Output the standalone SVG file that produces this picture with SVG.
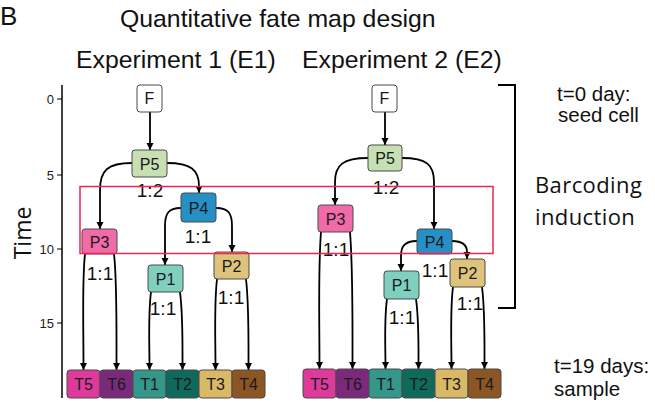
<svg xmlns="http://www.w3.org/2000/svg" width="655" height="406" viewBox="0 0 655 406">
  <style>
    .t { font-family: "Liberation Sans", Arial, sans-serif; fill: #111; }
    .os { font-family: "Open Sans", "Liberation Sans", sans-serif; fill: #111; }
    .node rect { stroke: #4a4a4a; stroke-width: 1; }
    .node text { font-family: "Liberation Sans", Arial, sans-serif; font-size: 16px; fill: #1a1a1a; text-anchor: middle; }
    .edge { fill: none; stroke: #000; stroke-width: 1.8; marker-end: url(#arrow); }
    .ratio { font-family: "Liberation Sans", Arial, sans-serif; font-size: 19px; fill: #111; text-anchor: middle; }
    .tick { font-family: "Liberation Sans", Arial, sans-serif; font-size: 13px; fill: #222; text-anchor: end; }
  </style>
  <defs>
    <marker id="arrow" markerUnits="userSpaceOnUse" markerWidth="9" markerHeight="8" refX="7.5" refY="3.75" orient="auto">
      <path d="M0,0 L7.5,3.75 L0,7.5 z" fill="#000"/>
    </marker>
  </defs>

  <rect width="655" height="406" fill="#fff"/>

  <!-- headings -->
  <text class="t" x="0" y="25" font-size="26">B</text>
  <text class="t" x="120" y="27" font-size="24.8">Quantitative fate map design</text>
  <text class="t" x="76" y="68" font-size="24.8">Experiment 1 (E1)</text>
  <text class="t" x="302" y="68" font-size="24.8">Experiment 2 (E2)</text>

  <!-- time axis -->
  <g id="axis">
    <line x1="62" y1="85" x2="62" y2="398" stroke="#000" stroke-width="1.5"/>
    <path d="M57,99 H62 M57,175 H62 M57,249 H62 M57,323 H62" stroke="#000" stroke-width="1.2"/>
    <text class="tick" x="54" y="103.5">0</text>
    <text class="tick" x="54" y="179.5">5</text>
    <text class="tick" x="54" y="253.5">10</text>
    <text class="tick" x="54" y="327.5">15</text>
    <text class="os" x="31" y="233" font-size="23" text-anchor="middle" transform="rotate(-90 31 233)">Time</text>
  </g>

  <!-- connectors -->
  <g id="connectors">
    <!-- E1 -->
    <path class="edge" d="M150,112 L150,150"/>
    <path class="edge" d="M132,163 C108,163 100,170 100,190 L100,229"/>
    <path class="edge" d="M167,163 C191,163 199,170 199,186 L199,193"/>
    <path class="edge" d="M181,208 C168,208 165,214 165,226 L165,265"/>
    <path class="edge" d="M216,208 C229,208 232,214 232,226 L232,252"/>
    <path class="edge" d="M85,254 C82,280 83.5,320 83.5,370"/>
    <path class="edge" d="M114,254 C117,280 116.5,320 116.5,370"/>
    <path class="edge" d="M151,292 C148,315 149.5,340 149.5,370"/>
    <path class="edge" d="M180,292 C183,315 182.5,340 182.5,370"/>
    <path class="edge" d="M217,279 C214,305 215.5,335 215.5,370"/>
    <path class="edge" d="M246,279 C249,305 248.5,335 248.5,370"/>
    <!-- E2 -->
    <path class="edge" d="M385,112 L385,145"/>
    <path class="edge" d="M368,158 C343,158 335,165 335,182 L335,205"/>
    <path class="edge" d="M402,158 C427,158 434,165 434,182 L434,229"/>
    <path class="edge" d="M417,241 C404,241 401,247 401,256 L401,271"/>
    <path class="edge" d="M452,241 C464,241 467,246 467,252 L467,259"/>
    <path class="edge" d="M321,232 C318,270 319.5,320 319.5,369"/>
    <path class="edge" d="M350,232 C353,270 352.5,320 352.5,369"/>
    <path class="edge" d="M387,299 C384,320 385.5,345 385.5,369"/>
    <path class="edge" d="M416,299 C419,320 418.5,345 418.5,369"/>
    <path class="edge" d="M453,287 C450,310 451.5,340 451.5,369"/>
    <path class="edge" d="M482,287 C485,310 484.5,340 484.5,369"/>
  </g>

  <!-- split ratios -->
  <g id="ratios">
    <text class="ratio" x="150" y="196.5">1:2</text>
    <text class="ratio" x="198" y="242.5">1:1</text>
    <text class="ratio" x="100" y="279.5">1:1</text>
    <text class="ratio" x="163" y="314.5">1:1</text>
    <text class="ratio" x="231" y="303.5">1:1</text>
    <text class="ratio" x="386" y="193.5">1:2</text>
    <text class="ratio" x="336" y="255.5">1:1</text>
    <text class="ratio" x="435" y="276.5">1:1</text>
    <text class="ratio" x="402" y="323.5">1:1</text>
    <text class="ratio" x="470" y="309.5">1:1</text>
  </g>

  <!-- Experiment 1 nodes -->
  <g id="e1-F" class="node"><rect x="137" y="85" width="25" height="27" rx="3" fill="#fff"/><text x="149.5" y="104" font-size="15">F</text></g>
  <g id="e1-P5" class="node"><rect x="132" y="150" width="35" height="27" rx="3" fill="#c6e0b4"/><text x="149.5" y="169.5">P5</text></g>
  <g id="e1-P4" class="node"><rect x="181" y="193" width="35" height="29" rx="3" fill="#2590c6"/><text x="198.5" y="213.5">P4</text></g>
  <g id="e1-P3" class="node"><rect x="82" y="229" width="35" height="25" rx="3" fill="#f06ba8"/><text x="99.5" y="247.5">P3</text></g>
  <g id="e1-P1" class="node"><rect x="148" y="265" width="35" height="27" rx="3" fill="#80d0c0"/><text x="165.5" y="284.5">P1</text></g>
  <g id="e1-P2" class="node"><rect x="214" y="252" width="35" height="27" rx="3" fill="#dfc37d"/><text x="231.5" y="271.5">P2</text></g>
  <g id="e1-T5" class="node"><rect x="67" y="370" width="33" height="28" rx="3" fill="#dd3a9c"/><text x="83.5" y="390">T5</text></g>
  <g id="e1-T6" class="node"><rect x="100" y="370" width="33" height="28" rx="3" fill="#7b2a7b"/><text x="116.5" y="390">T6</text></g>
  <g id="e1-T1" class="node"><rect x="133" y="370" width="33" height="28" rx="3" fill="#35978b"/><text x="149.5" y="390">T1</text></g>
  <g id="e1-T2" class="node"><rect x="166" y="370" width="33" height="28" rx="3" fill="#0f6a5c"/><text x="182.5" y="390">T2</text></g>
  <g id="e1-T3" class="node"><rect x="199" y="370" width="33" height="28" rx="3" fill="#d9b866"/><text x="215.5" y="390">T3</text></g>
  <g id="e1-T4" class="node"><rect x="232" y="370" width="33" height="28" rx="3" fill="#8c5524"/><text x="248.5" y="390">T4</text></g>

  <!-- Experiment 2 nodes -->
  <g id="e2-F" class="node"><rect x="372" y="85" width="25" height="27" rx="3" fill="#fff"/><text x="384.5" y="104" font-size="15">F</text></g>
  <g id="e2-P5" class="node"><rect x="368" y="145" width="34" height="26" rx="3" fill="#c6e0b4"/><text x="385" y="164">P5</text></g>
  <g id="e2-P3" class="node"><rect x="318" y="205" width="35" height="27" rx="3" fill="#f06ba8"/><text x="335.5" y="224.5">P3</text></g>
  <g id="e2-P4" class="node"><rect x="417" y="229" width="35" height="25" rx="3" fill="#2590c6"/><text x="434.5" y="247.5">P4</text></g>
  <g id="e2-P1" class="node"><rect x="384" y="271" width="35" height="28" rx="3" fill="#80d0c0"/><text x="401.5" y="291">P1</text></g>
  <g id="e2-P2" class="node"><rect x="450" y="259" width="35" height="28" rx="3" fill="#dfc37d"/><text x="467.5" y="279">P2</text></g>
  <g id="e2-T5" class="node"><rect x="303" y="369" width="33" height="29" rx="3" fill="#dd3a9c"/><text x="319.5" y="389.5">T5</text></g>
  <g id="e2-T6" class="node"><rect x="336" y="369" width="33" height="29" rx="3" fill="#7b2a7b"/><text x="352.5" y="389.5">T6</text></g>
  <g id="e2-T1" class="node"><rect x="369" y="369" width="33" height="29" rx="3" fill="#35978b"/><text x="385.5" y="389.5">T1</text></g>
  <g id="e2-T2" class="node"><rect x="402" y="369" width="33" height="29" rx="3" fill="#0f6a5c"/><text x="418.5" y="389.5">T2</text></g>
  <g id="e2-T3" class="node"><rect x="435" y="369" width="33" height="29" rx="3" fill="#d9b866"/><text x="451.5" y="389.5">T3</text></g>
  <g id="e2-T4" class="node"><rect x="468" y="369" width="33" height="29" rx="3" fill="#8c5524"/><text x="484.5" y="389.5">T4</text></g>

  <!-- barcoding window -->
  <rect id="barcoding-window" x="80" y="186.5" width="413" height="67" fill="none" stroke="#ee2452" stroke-width="1.5"/>

  <!-- time span bracket and notes -->
  <g id="timeline-notes">
    <path d="M498,85 H515 V308 H498" fill="none" stroke="#000" stroke-width="2"/>
    <text class="t" x="557" y="101" font-size="20.5">t=0 day:</text>
    <text class="t" x="558" y="122" font-size="20.5">seed cell</text>
    <text class="os" x="535" y="193" font-size="22" letter-spacing="0.4">Barcoding</text>
    <text class="os" x="535" y="225" font-size="22" letter-spacing="0.4">induction</text>
    <text class="t" x="554" y="373" font-size="20.5">t=19 days:</text>
    <text class="t" x="554" y="396" font-size="20.5">sample</text>
  </g>
</svg>
